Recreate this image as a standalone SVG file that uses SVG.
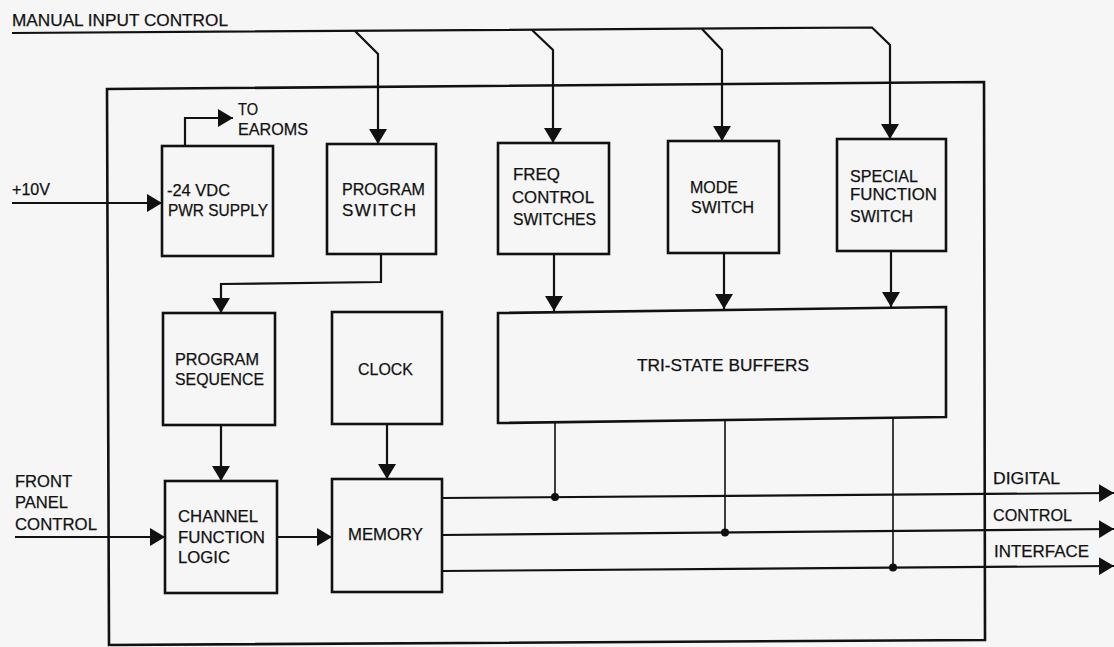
<svg xmlns="http://www.w3.org/2000/svg" width="1114" height="647" viewBox="0 0 1114 647">
<style>
  .bg { fill: #f6f6f6; }
  .box { fill: none; stroke: #111; stroke-width: 2.6; stroke-linejoin: miter; }
  .wire { fill: none; stroke: #111; stroke-width: 2.2; stroke-linejoin: miter; }
  .thin { fill: none; stroke: #111; stroke-width: 1.6; }
  .dot { fill: #111; }
  text { font-family: "Liberation Sans", Arial, sans-serif; font-size: 17px; fill: #111; stroke: #111; stroke-width: 0.25; }
</style>
<defs>
  <marker id="arr" viewBox="0 0 15 18" refX="15" refY="9" markerWidth="15" markerHeight="18" markerUnits="userSpaceOnUse" orient="auto">
    <path d="M0,0 L15,9 L0,18 Z" fill="#111"/>
  </marker>
</defs>
<rect class="bg" x="0" y="0" width="1114" height="647"/>

<g id="outer-box">
  <polygon class="box" points="107,89 984,82 985,640 109,645"/>
</g>

<g id="connectors">
  <path class="wire" d="M12,33 L872,27.5 L890,45 L890,139" marker-end="url(#arr)"/>
  <path class="wire" d="M355,31 L378,54 L378,144" marker-end="url(#arr)"/>
  <path class="wire" d="M532,30 L553,50 L553,143" marker-end="url(#arr)"/>
  <path class="wire" d="M702,29 L722,50 L722,141" marker-end="url(#arr)"/>
  <path class="wire" d="M185,146 L185,118 L233,118" marker-end="url(#arr)"/>
  <path class="wire" d="M12,203 L162,203" marker-end="url(#arr)"/>
  <path class="wire" d="M381,254 L381,282 L221,284 L221,313" marker-end="url(#arr)"/>
  <path class="wire" d="M554,254 L554,311" marker-end="url(#arr)"/>
  <path class="wire" d="M724,253 L724,309" marker-end="url(#arr)"/>
  <path class="wire" d="M891,251 L891,307" marker-end="url(#arr)"/>
  <path class="wire" d="M221,425 L221,481" marker-end="url(#arr)"/>
  <path class="wire" d="M387,424 L387,479" marker-end="url(#arr)"/>
  <path class="wire" d="M15,537 L165,537" marker-end="url(#arr)"/>
  <path class="wire" d="M277,537 L332,537" marker-end="url(#arr)"/>
  <path class="wire" d="M442,498 L1114,493" marker-end="url(#arr)"/>
  <path class="wire" d="M442,535 L1114,529" marker-end="url(#arr)"/>
  <path class="wire" d="M442,571 L1114,566" marker-end="url(#arr)"/>
  <path class="thin" d="M555,422 L555,497"/>
  <path class="thin" d="M725,420 L725,532"/>
  <path class="thin" d="M893,418 L893,567"/>
  <circle class="dot" cx="555" cy="497" r="4"/>
  <circle class="dot" cx="725" cy="532.5" r="4"/>
  <circle class="dot" cx="893" cy="567.5" r="4"/>
</g>

<g id="labels">
  <text x="12" y="26" textLength="216" lengthAdjust="spacingAndGlyphs">MANUAL INPUT CONTROL</text>
  <text x="238" y="115" textLength="20" lengthAdjust="spacingAndGlyphs">TO</text>
  <text x="238" y="135" textLength="70" lengthAdjust="spacingAndGlyphs">EAROMS</text>
  <text x="12" y="195" textLength="38" lengthAdjust="spacingAndGlyphs">+10V</text>
  <text x="15" y="487" textLength="57" lengthAdjust="spacingAndGlyphs">FRONT</text>
  <text x="15" y="508" textLength="53" lengthAdjust="spacingAndGlyphs">PANEL</text>
  <text x="15" y="530" textLength="82" lengthAdjust="spacingAndGlyphs">CONTROL</text>
  <text x="993" y="484" textLength="67" lengthAdjust="spacingAndGlyphs">DIGITAL</text>
  <text x="993" y="521" textLength="79" lengthAdjust="spacingAndGlyphs">CONTROL</text>
  <text x="994" y="557" textLength="95" lengthAdjust="spacingAndGlyphs">INTERFACE</text>
</g>

<g id="pwr-supply">
  <rect class="box" x="162" y="146" width="111" height="110"/>
  <text x="167" y="196" textLength="63" lengthAdjust="spacingAndGlyphs">-24 VDC</text>
  <text x="168" y="216" textLength="100" lengthAdjust="spacingAndGlyphs">PWR SUPPLY</text>
</g>
<g id="program-switch">
  <rect class="box" x="327" y="144" width="109" height="110"/>
  <text x="342" y="195" textLength="83" lengthAdjust="spacingAndGlyphs">PROGRAM</text>
  <text x="342" y="216" textLength="74" lengthAdjust="spacing">SWITCH</text>
</g>
<g id="freq-control-switches">
  <rect class="box" x="498" y="143" width="111" height="111"/>
  <text x="513" y="180" textLength="47" lengthAdjust="spacingAndGlyphs">FREQ</text>
  <text x="512" y="203" textLength="82" lengthAdjust="spacingAndGlyphs">CONTROL</text>
  <text x="513" y="225" textLength="83" lengthAdjust="spacingAndGlyphs">SWITCHES</text>
</g>
<g id="mode-switch">
  <rect class="box" x="668" y="141" width="111" height="112"/>
  <text x="690" y="193" textLength="48" lengthAdjust="spacingAndGlyphs">MODE</text>
  <text x="691" y="213" textLength="63" lengthAdjust="spacingAndGlyphs">SWITCH</text>
</g>
<g id="special-function-switch">
  <rect class="box" x="837" y="139" width="109" height="112"/>
  <text x="850" y="182" textLength="68" lengthAdjust="spacingAndGlyphs">SPECIAL</text>
  <text x="850" y="200" textLength="87" lengthAdjust="spacingAndGlyphs">FUNCTION</text>
  <text x="850" y="222" textLength="63" lengthAdjust="spacingAndGlyphs">SWITCH</text>
</g>
<g id="program-sequence">
  <rect class="box" x="163" y="313" width="112" height="112"/>
  <text x="175" y="365" textLength="84" lengthAdjust="spacingAndGlyphs">PROGRAM</text>
  <text x="175" y="385" textLength="89" lengthAdjust="spacingAndGlyphs">SEQUENCE</text>
</g>
<g id="clock">
  <rect class="box" x="332" y="312" width="110" height="112"/>
  <text x="358" y="375" textLength="55" lengthAdjust="spacingAndGlyphs">CLOCK</text>
</g>
<g id="tri-state-buffers">
  <polygon class="box" points="498,313 946,307 946,417 498,423"/>
  <text x="637" y="371" textLength="172" lengthAdjust="spacingAndGlyphs">TRI-STATE BUFFERS</text>
</g>
<g id="channel-function-logic">
  <rect class="box" x="165" y="481" width="112" height="112"/>
  <text x="178" y="522" textLength="80" lengthAdjust="spacingAndGlyphs">CHANNEL</text>
  <text x="178" y="543" textLength="87" lengthAdjust="spacingAndGlyphs">FUNCTION</text>
  <text x="178" y="563" textLength="52" lengthAdjust="spacingAndGlyphs">LOGIC</text>
</g>
<g id="memory">
  <rect class="box" x="332" y="479" width="110" height="113"/>
  <text x="348" y="540" textLength="75" lengthAdjust="spacingAndGlyphs">MEMORY</text>
</g>
</svg>
